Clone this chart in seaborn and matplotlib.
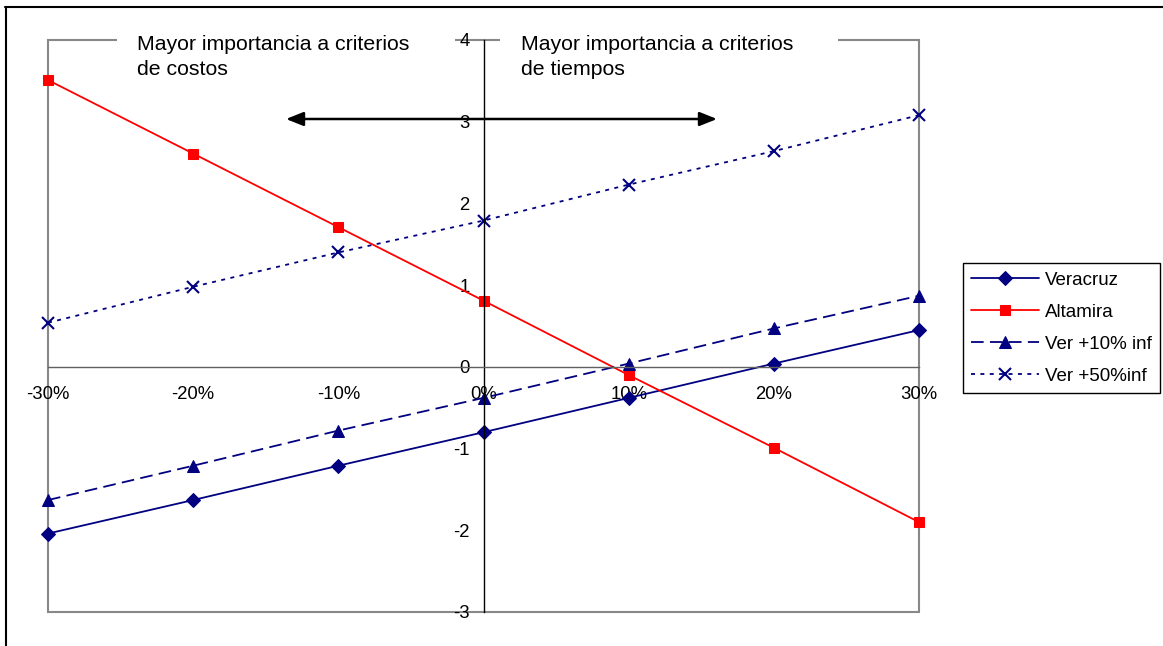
import matplotlib
matplotlib.use("Agg")
import matplotlib.pyplot as plt
from matplotlib.lines import Line2D
from matplotlib.patches import Rectangle

import seaborn as sns

# chart data
variation = [-30, -20, -10, 0, 10, 20, 30]
veracruz = [-2.04, -1.63, -1.21, -0.80, -0.38, 0.04, 0.45]
altamira = [3.51, 2.61, 1.71, 0.81, -0.10, -0.99, -1.90]
ver_10_inf = [-1.63, -1.21, -0.78, -0.38, 0.04, 0.47, 0.87]
ver_50_inf = [0.54, 0.98, 1.40, 1.79, 2.23, 2.64, 3.08]
x_labels = ["-30%", "-20%", "-10%", "0%", "10%", "20%", "30%"]
y_ticks = [-3, -2, -1, 0, 1, 2, 3, 4]

sns.set_style("white")
plt.rcParams["font.family"] = ["Liberation Sans", "DejaVu Sans"]
plt.rcParams["axes.unicode_minus"] = False
plt.rcParams["text.color"] = "black"
plt.rcParams["legend.labelcolor"] = "black"

NAVY = "#000080"
RED = "#FF0000"
W, H = 1163, 646

fig = plt.figure(figsize=(W / 100, H / 100), dpi=100)
ax = fig.add_axes([48 / W, 1 - 612 / H, (919 - 48) / W, (612 - 40) / H])

common = dict(lw=1.3, clip_on=False, ax=ax)
sns.lineplot(x=variation, y=veracruz, color=NAVY, marker="D", markersize=7,
             markeredgecolor=NAVY, label="Veracruz", **common)
sns.lineplot(x=variation, y=altamira, color=RED, marker="s", markersize=7,
             markeredgecolor=RED, label="Altamira", **common)
sns.lineplot(x=variation, y=ver_10_inf, color=NAVY, marker="^", markersize=8.5,
             markeredgecolor=NAVY, label="Ver +10% inf", **common)
ax.lines[-1].set_dashes((7, 3.5))
sns.lineplot(x=variation, y=ver_50_inf, color=NAVY, marker="x", markersize=8,
             markeredgecolor=NAVY, markeredgewidth=1.5, label="Ver +50%inf", **common)
ax.lines[-1].set_dashes((2.2, 3))

ax.set_xlim(-30, 30)
ax.set_ylim(-3, 4)
ax.set_xticks(variation)
ax.set_xticklabels(x_labels)
ax.set_yticks(y_ticks)
ax.set_xlabel("")
ax.set_ylabel("")

# axes crossing at the origin, Excel style
for s in ["top", "right"]:
    ax.spines[s].set_visible(False)
ax.spines["left"].set_position(("data", 0))
ax.spines["left"].set_color("black")
ax.spines["left"].set_linewidth(1.0)
ax.spines["bottom"].set_position(("data", 0))
ax.spines["bottom"].set_color("#606060")
ax.spines["bottom"].set_linewidth(1.0)
ax.tick_params(axis="both", direction="out", length=4, width=1, colors="black",
               labelsize=13.3)
ax.tick_params(axis="x", pad=10, color="#606060")
ax.tick_params(axis="y", pad=6)

# gray plot-area frame
ax.add_patch(Rectangle((0, 0), 1, 1, transform=ax.transAxes, fill=False,
                       edgecolor="#888888", lw=1.5, zorder=0.5, clip_on=False))

# white text boxes over the frame
for x0, x1 in [(117, 455), (500, 838)]:
    fig.patches.append(Rectangle((x0 / W, 1 - 88 / H), (x1 - x0) / W, 56 / H,
                                 transform=fig.transFigure, facecolor="white",
                                 edgecolor="none", zorder=3))
fig.text(137 / W, 1 - 35 / H, "Mayor importancia a criterios\nde costos",
         va="top", ha="left", fontsize=15.3, linespacing=1.38, zorder=4)
fig.text(521 / W, 1 - 35 / H, "Mayor importancia a criterios\nde tiempos",
         va="top", ha="left", fontsize=15.3, linespacing=1.38, zorder=4)

# double-headed arrow
ax.annotate("", xy=(717 / W, 1 - 119 / H), xytext=(286 / W, 1 - 119 / H),
            xycoords="figure fraction", textcoords="figure fraction",
            arrowprops=dict(arrowstyle="<|-|>,head_length=0.75,head_width=0.3",
                            color="black", lw=1.8, shrinkA=0, shrinkB=0,
                            mutation_scale=14))

leg = ax.legend(loc="upper left", bbox_to_anchor=(963 / W, 1 - 263 / H),
                bbox_transform=fig.transFigure, frameon=True, fancybox=False,
                framealpha=1, edgecolor="black", fontsize=13.5, handlelength=3.6,
                handletextpad=0.3, labelspacing=0.8, borderpad=0.45,
                borderaxespad=0)
leg.get_frame().set_linewidth(1.0)

# outer chart border (top and left visible)
fig.add_artist(Line2D([5 / W, 1], [1 - 6.5 / H, 1 - 6.5 / H], color="black", lw=1.5))
fig.add_artist(Line2D([5.5 / W, 5.5 / W], [0, 1 - 6.5 / H], color="black", lw=1.5))

fig.savefig("out.png", dpi=100)
